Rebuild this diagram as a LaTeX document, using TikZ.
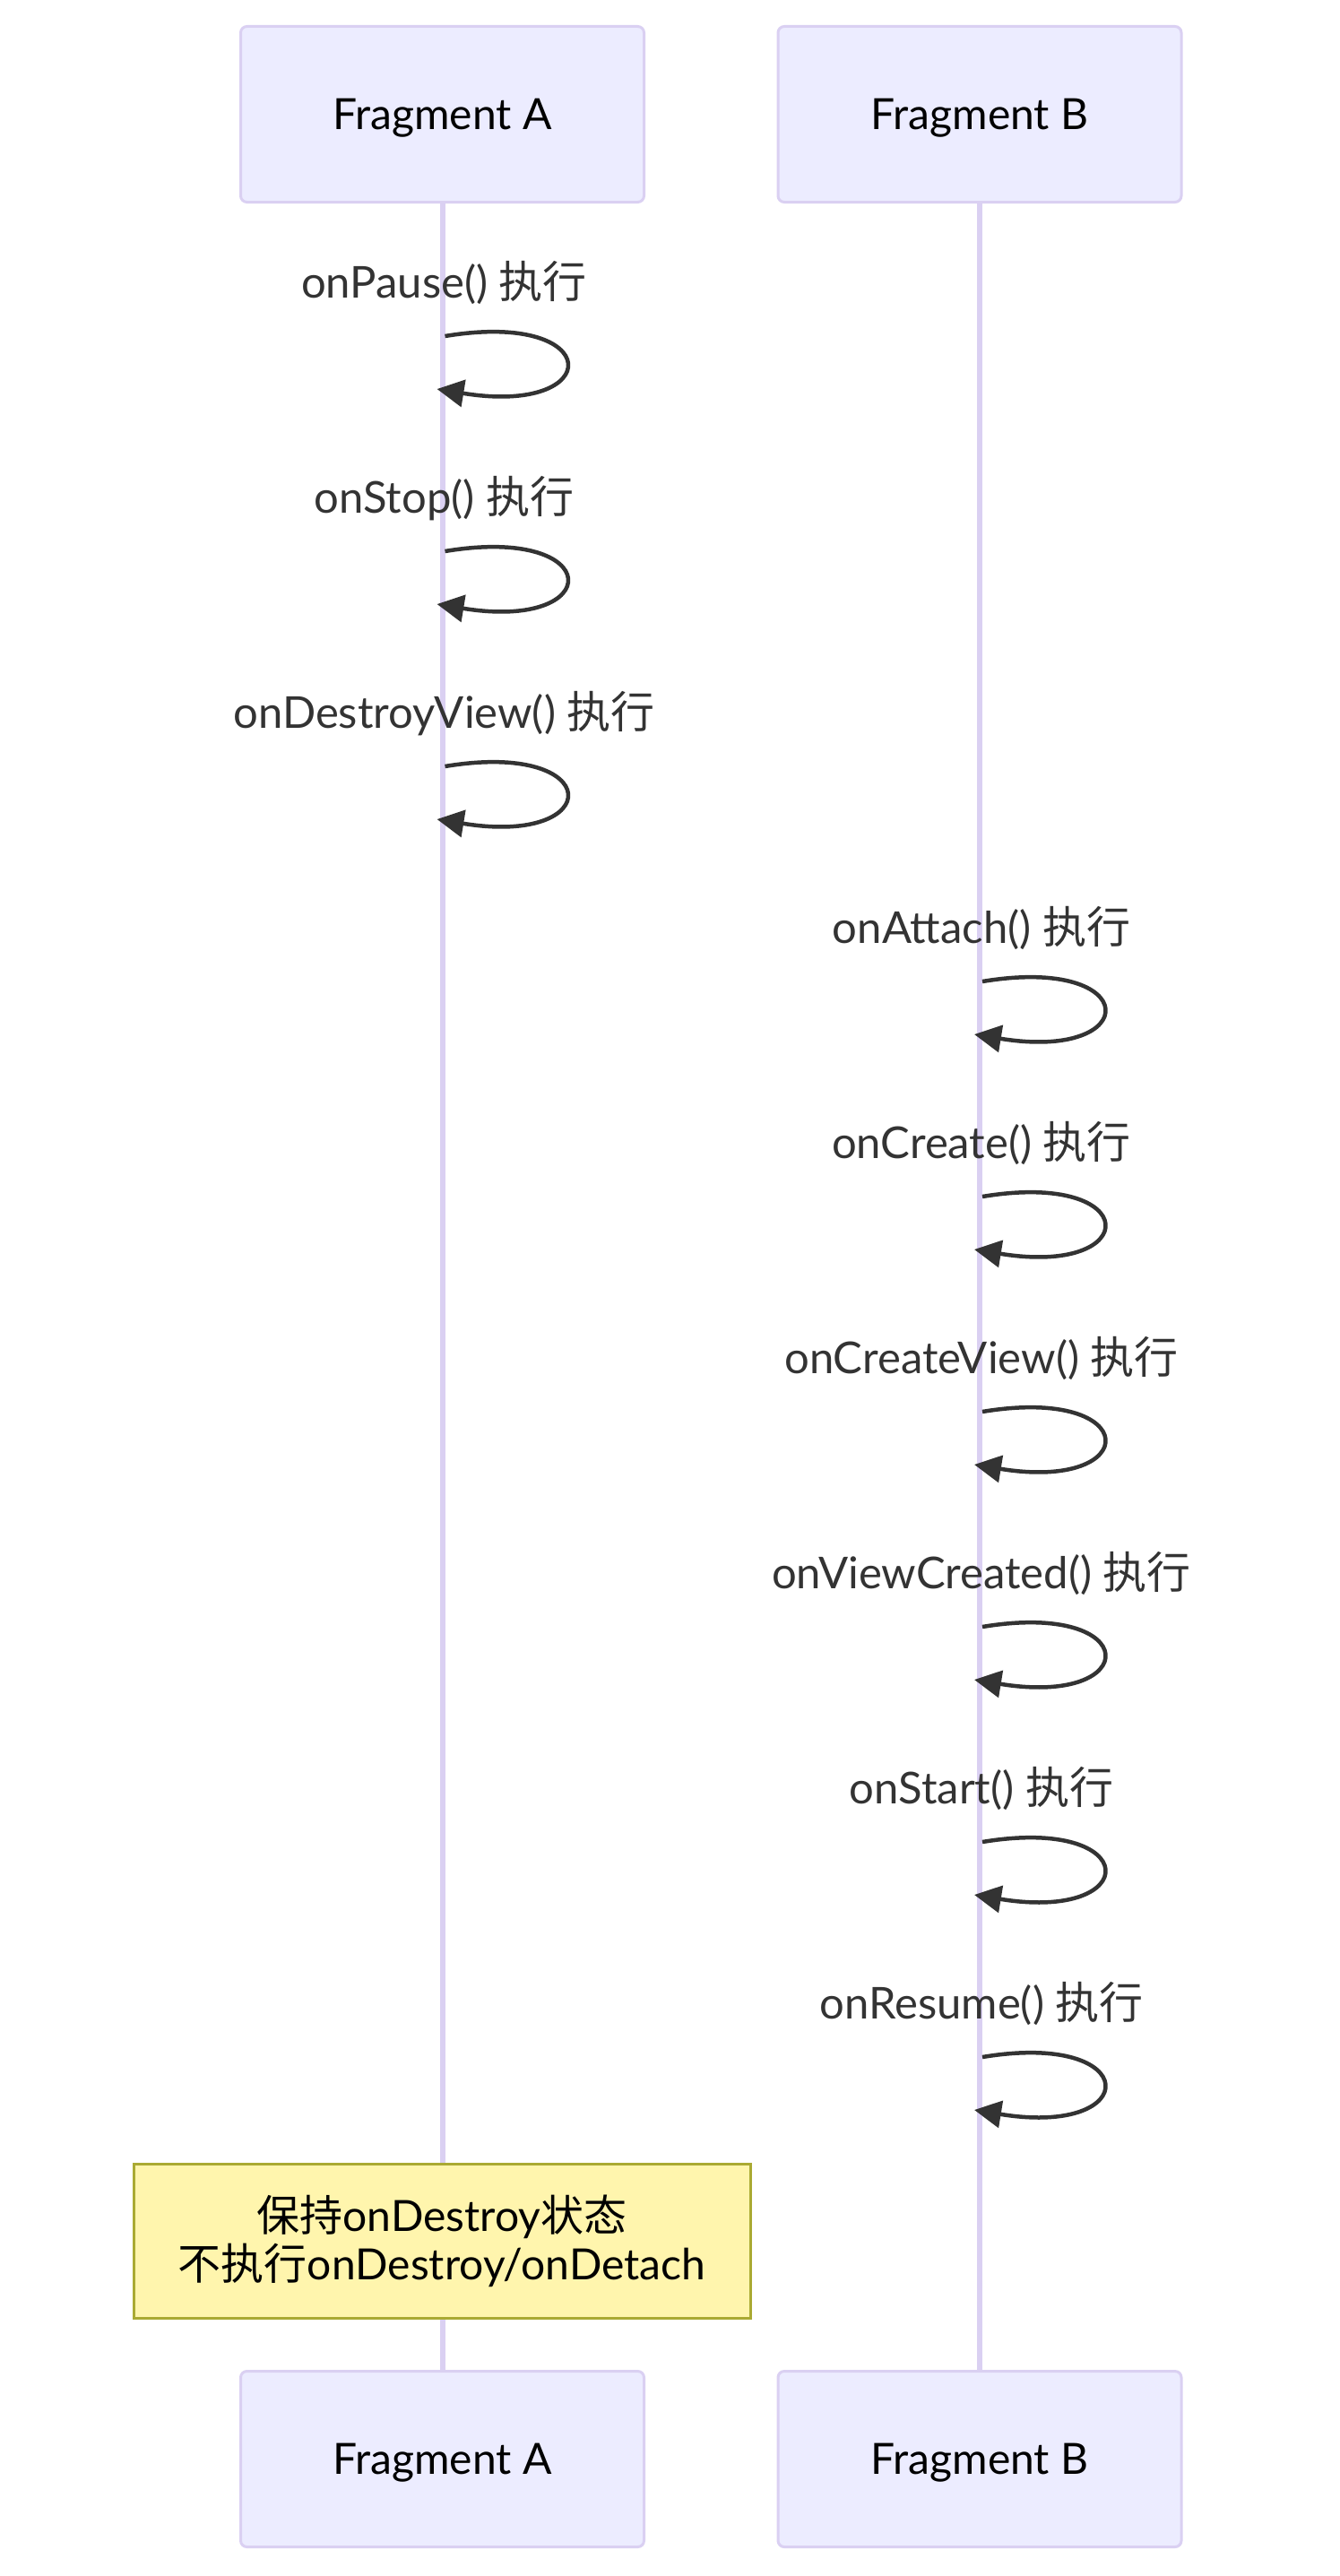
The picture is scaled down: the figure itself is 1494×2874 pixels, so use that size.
\documentclass[tikz,border=0pt]{standalone}
\usepackage{fontspec}
\setmainfont{Lato}
\newfontfamily\cjk{Noto Sans CJK SC}
\usetikzlibrary{arrows.meta}
\definecolor{actfill}{HTML}{ECECFF}
\definecolor{actline}{HTML}{DAD0F2}
\definecolor{notefill}{HTML}{FFF5AD}
\definecolor{noteline}{HTML}{AAAA33}
\definecolor{msgcol}{HTML}{333333}
\tikzset{
  actor/.style={draw=actline, fill=actfill, line width=3pt, rounded corners=7pt,
    minimum width=450pt, minimum height=196pt, inner sep=0pt, text=black,
    font=\fontsize{48}{58}\selectfont, text height=34pt, text depth=0pt},
  lifeline/.style={draw=actline, line width=6pt},
  msgline/.style={draw=msgcol, line width=4.5pt, -{Triangle[length=30pt,width=30pt]}},
  msglabel/.style={anchor=base, inner sep=0pt, text=msgcol, font=\fontsize{49}{58}\selectfont},
  notebox/.style={draw=noteline, fill=notefill, line width=3pt, minimum width=688pt,
    minimum height=172pt, inner sep=0pt, align=center, text=black,
    font=\fontsize{48}{54}\selectfont}
}
\begin{document}
\begin{tikzpicture}[x=1pt,y=-1pt]
\useasboundingbox (0,0) rectangle (1494,2874);
% actors
\node[actor] (At) at (493.5,127.5) {Fragment A};
\node[actor] (Bt) at (1093,127.5) {Fragment B};
\node[actor] (Ab) at (493.5,2743.5) {Fragment A};
\node[actor] (Bb) at (1093,2743.5) {Fragment B};
% lifelines
\draw[lifeline] (At.south) -- (Ab.north);
\draw[lifeline] (Bt.south) -- (Bb.north);
% self messages
\foreach \i/\x/\t in {0/493.5/{onPause() {\cjk 执行}},
                       1/493.5/{onStop() {\cjk 执行}},
                       2/493.5/{onDestroyView() {\cjk 执行}},
                       3/1093/{onAttach() {\cjk 执行}},
                       4/1093/{onCreate() {\cjk 执行}},
                       5/1093/{onCreateView() {\cjk 执行}},
                       6/1093/{onViewCreated() {\cjk 执行}},
                       7/1093/{onStart() {\cjk 执行}},
                       8/1093/{onResume() {\cjk 执行}}}{
  \pgfmathsetmacro{\y}{375+240*\i}
  \node[msglabel] (lab\i) at (\x+2,\y-43) {\t};
  \coordinate (s\i) at (\x+3,\y);
  \coordinate (e\i) at (\x-6,\y+59);
  \draw[msgline] (s\i) .. controls +(180,-30) and +(189,31) .. (e\i);
}
% note
\node[notebox] (note) at (493,2500) {{\cjk 保持}onDestroy{\cjk 状态}\\{\cjk 不执行}onDestroy/onDetach};
\end{tikzpicture}
\end{document}
